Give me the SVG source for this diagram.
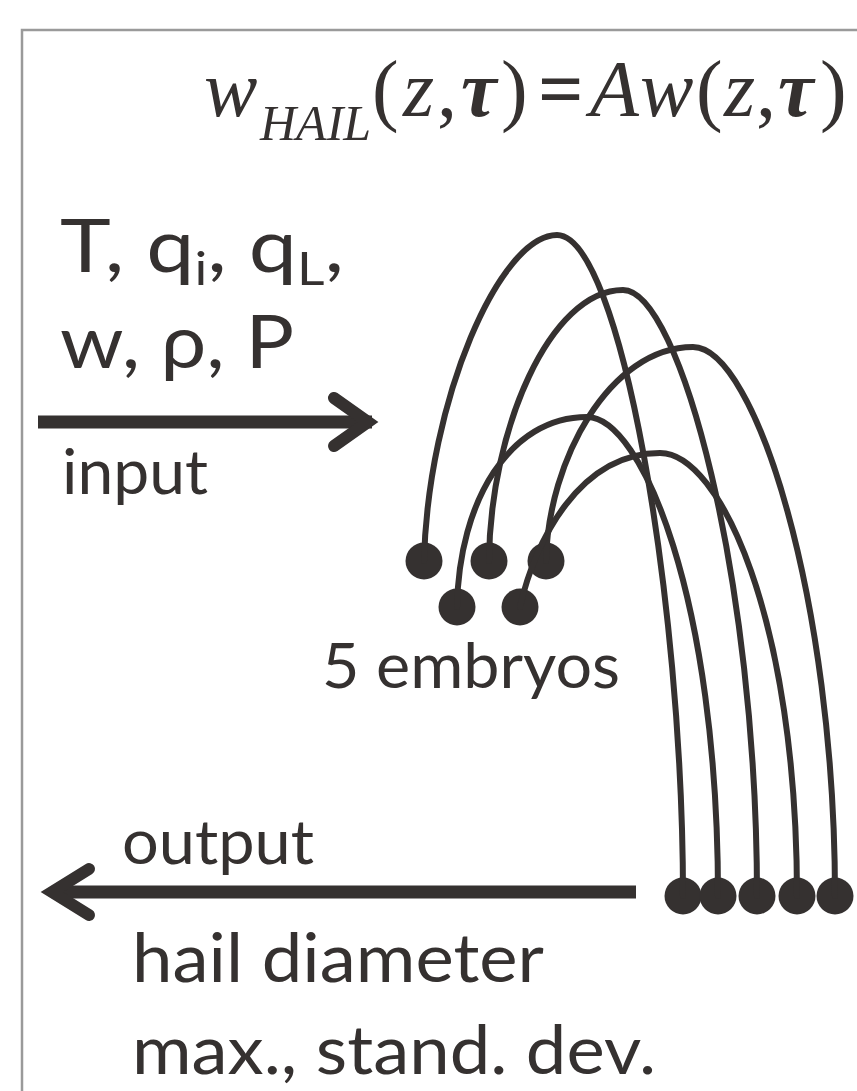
<svg xmlns="http://www.w3.org/2000/svg" width="857" height="1091" viewBox="0 0 857 1091">
<style>
.t{font-family:"Lato","Open Sans",sans-serif;fill:#353130}
.eq{font-family:"Liberation Serif","Times New Roman",serif;font-style:italic;font-size:80px;fill:#353130}
.up{font-style:normal}
.tau{font-weight:bold}
.arc{fill:none;stroke:#353130;stroke-width:6;stroke-linecap:round}
.dot{fill:#353130}
.shaft{fill:none;stroke:#353130;stroke-width:13}
.head{fill:none;stroke:#353130;stroke-width:12;stroke-linecap:round;stroke-linejoin:miter;stroke-miterlimit:6}
</style>
<rect x="0" y="0" width="857" height="1091" fill="#ffffff"/>
<path d="M22,1091 V30 H857" fill="none" stroke="#9a9a9a" stroke-width="2.5"/>
<g id="equation">
<text class="eq" y="116"><tspan x="204">w</tspan><tspan x="260" y="140" style="font-size:50px">HAIL</tspan><tspan class="up" x="372" y="116">(</tspan><tspan x="403">z</tspan><tspan class="up" x="437">,</tspan><tspan class="tau" x="461">τ</tspan><tspan class="up" x="501">)</tspan><tspan class="up tau" x="538">=</tspan><tspan x="590">A</tspan><tspan x="640">w</tspan><tspan class="up" x="696">(</tspan><tspan x="724">z</tspan><tspan class="up" x="756">,</tspan><tspan class="tau" x="778">τ</tspan><tspan class="up" x="820">)</tspan></text>
</g>
<g id="inputs">
<text class="t" x="60" y="272" font-size="74" textLength="284" lengthAdjust="spacingAndGlyphs">T, q<tspan font-size="46" dy="13">i</tspan><tspan dy="-13">, q</tspan><tspan font-size="46" dy="13">L</tspan><tspan dy="-13">,</tspan></text>
<text class="t" x="60" y="368" font-size="74" textLength="234" lengthAdjust="spacingAndGlyphs">w, ρ, P</text>
<text class="t" x="62" y="494" font-size="62" textLength="146" lengthAdjust="spacingAndGlyphs">input</text>
</g>
<g id="embryos">
<circle class="dot" cx="424" cy="561" r="18.5"/>
<circle class="dot" cx="489" cy="561" r="18.5"/>
<circle class="dot" cx="546" cy="561" r="18.5"/>
<circle class="dot" cx="457" cy="607" r="18.5"/>
<circle class="dot" cx="520" cy="607" r="18.5"/>
<text class="t" x="322" y="688" font-size="62" textLength="298" lengthAdjust="spacingAndGlyphs">5 embryos</text>
</g>
<g id="hailstones">
<circle class="dot" cx="683" cy="896" r="18.5"/>
<circle class="dot" cx="718" cy="896" r="18.5"/>
<circle class="dot" cx="757" cy="896" r="18.5"/>
<circle class="dot" cx="797" cy="896" r="18.5"/>
<circle class="dot" cx="835" cy="896" r="18.5"/>
</g>
<g id="outputs">
<text class="t" x="122" y="864" font-size="62" textLength="192" lengthAdjust="spacingAndGlyphs">output</text>
<text class="t" x="132" y="982" font-size="68" textLength="412" lengthAdjust="spacingAndGlyphs">hail diameter</text>
<text class="t" x="132" y="1074" font-size="68" textLength="524" lengthAdjust="spacingAndGlyphs">max., stand. dev.</text>
</g>
<g id="connectors">
<path class="arc" d="M424,561 C428,400 500,235 557,235 C620,235 683,600 683,896"/>
<path class="arc" d="M489,561 C490,430 550,290 623,290 C680,290 757,580 757,896"/>
<path class="arc" d="M546,561 C548,460 610,347 693,347 C755,347 835,600 835,896"/>
<path class="arc" d="M457,607 C459,500 510,417 587,417 C642,417 718,600 718,896"/>
<path class="arc" d="M520,607 C535,540 580,453 660,453 C720,453 797,620 797,896"/>
<line class="shaft" x1="38" y1="422" x2="372" y2="422"/>
<polyline class="head" points="334,398 368,422 334,446"/>
<line class="shaft" x1="56" y1="892" x2="636" y2="892"/>
<polyline class="head" points="89,869 52,892 89,915"/>
</g>
</svg>
